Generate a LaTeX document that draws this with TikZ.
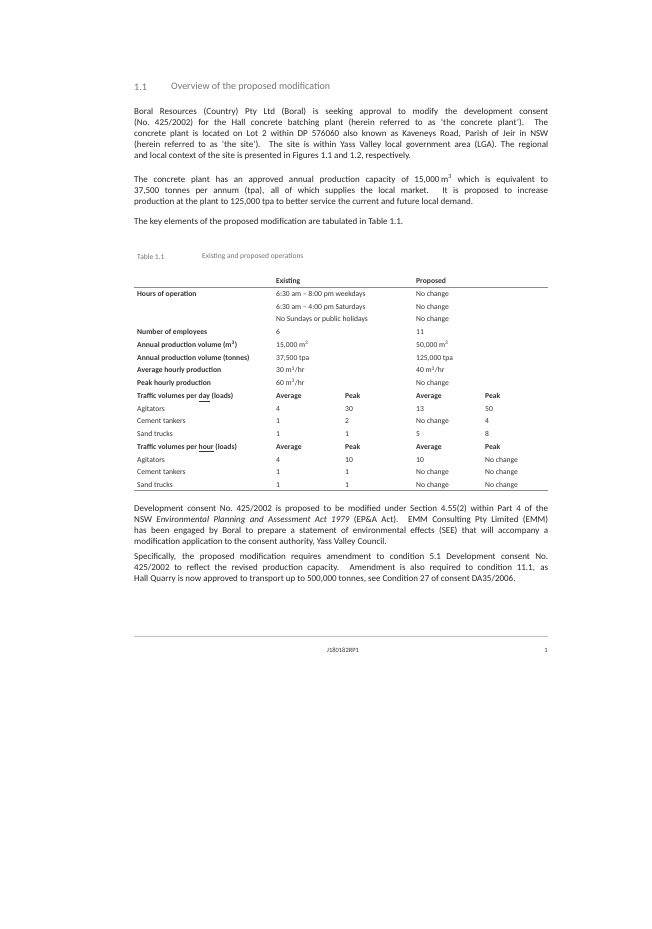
\documentclass[tikz,border=0pt]{standalone}
\usepackage{fontspec}
\setmainfont{Carlito}
\usetikzlibrary{positioning}
\definecolor{headgray}{gray}{0.45}
\definecolor{rulegray}{gray}{0.55}
\begin{document}
\begin{tikzpicture}[x=1pt,y=-1pt]
    \tikzset{
        para/.style={anchor=north west, inner sep=0pt, text width=414pt, align=justify,
            font=\fontsize{9}{11}\selectfont, text=black!85},
        cell/.style={anchor=base west, inner sep=0pt, font=\fontsize{7.6}{9}\selectfont, text=black!80},
        bcell/.style={cell, font=\fontsize{7.6}{9}\selectfont\bfseries},
        gray head/.style={anchor=west, inner sep=0pt, text=headgray},
    }
    \fill[white] (0,0) rectangle (651,929);

    % Heading
    \node[gray head, font=\fontsize{10}{12}\selectfont] (num) at (134,87) {1.1};
    \node[gray head, font=\fontsize{10}{12}\selectfont] (head) at (171,87) {Overview of the proposed modification};

    % Paragraphs
    \node[para] (p1) at (134,107.5) {Boral Resources (Country) Pty Ltd (Boral) is seeking approval to modify the development consent\linebreak (No.~425/2002) for the Hall concrete batching plant (herein referred to as `the concrete plant').\ \ The\linebreak concrete plant is located on Lot 2 within DP 576060 also known as Kaveneys Road, Parish of Jeir in NSW\linebreak (herein referred to as `the site'). The site is within Yass Valley local government area (LGA). The regional\linebreak and local context of the site is presented in Figures 1.1 and 1.2, respectively.};
    \node[para] (p2) at (134,174.5) {The concrete plant has an approved annual production capacity of 15,000\,m\textsuperscript{3} which is equivalent to\linebreak 37,500 tonnes per annum (tpa), all of which supplies the local market. It is proposed to increase\linebreak production at the plant to 125,000 tpa to better service the current and future local demand.};
    \node[para] (p3) at (134,218.5) {The key elements of the proposed modification are tabulated in Table 1.1.};

    % Table caption
    \node[gray head, font=\fontsize{7.5}{9}\selectfont] (tab) at (137,257) {Table 1.1};
    \node[gray head, font=\fontsize{7.5}{9}\selectfont] (tabcap) at (202,257) {Existing and proposed operations};

    % Table
    \newcommand{\tabrow}[7]{%
        \node[#2] at (137,#1+2.6) {#3};
        \node[cell] at (276,#1+2.6) {#4};
        \node[cell] at (345,#1+2.6) {#5};
        \node[cell] at (416,#1+2.6) {#6};
        \node[cell] at (485,#1+2.6) {#7};}
    \node[bcell] (ex) at (276,283.6) {Existing};
    \node[bcell] (pr) at (416,283.6) {Proposed};
    \coordinate (rl) at (134,287);
    \coordinate (rr) at (548,287);
    \draw[rulegray, line width=0.6pt] (rl) -- (rr);
    \tabrow{293.8}{bcell}{Hours of operation}{6:30 am -- 8:00 pm weekdays}{}{No change}{}
    \tabrow{306.5}{bcell}{}{6:30 am -- 4:00 pm Saturdays}{}{No change}{}
    \tabrow{319.3}{bcell}{}{No Sundays or public holidays}{}{No change}{}
    \tabrow{332.0}{bcell}{Number of employees}{6}{}{11}{}
    \tabrow{344.8}{bcell}{Annual production volume (m\textsuperscript{3})}{15,000 m\textsuperscript{3}}{}{50,000 m\textsuperscript{3}}{}
    \tabrow{357.5}{bcell}{Annual production volume (tonnes)}{37,500 tpa}{}{125,000 tpa}{}
    \tabrow{370.3}{bcell}{Average hourly production}{30 m\textsuperscript{3}/hr}{}{40 m\textsuperscript{3}/hr}{}
    \tabrow{383.0}{bcell}{Peak hourly production}{60 m\textsuperscript{3}/hr}{}{No change}{}
    \tabrow{395.8}{bcell}{Traffic volumes per \underline{day} (loads)}{\textbf{Average}}{\textbf{Peak}}{\textbf{Average}}{\textbf{Peak}}
    \tabrow{408.5}{cell}{Agitators}{4}{30}{13}{50}
    \tabrow{421.3}{cell}{Cement tankers}{1}{2}{No change}{4}
    \tabrow{434.0}{cell}{Sand trucks}{1}{1}{5}{8}
    \tabrow{446.8}{bcell}{Traffic volumes per \underline{hour} (loads)}{\textbf{Average}}{\textbf{Peak}}{\textbf{Average}}{\textbf{Peak}}
    \tabrow{459.5}{cell}{Agitators}{4}{10}{10}{No change}
    \tabrow{472.3}{cell}{Cement tankers}{1}{1}{No change}{No change}
    \tabrow{485.0}{cell}{Sand trucks}{1}{1}{No change}{No change}
    \coordinate (bl) at (134,490);
    \coordinate (br) at (548,490);
    \draw[rulegray, line width=0.6pt] (bl) -- (br);

    % Paragraphs after the table
    \node[para] (p4) at (134,504.5) {Development consent No.~425/2002 is proposed to be modified under Section 4.55(2) within Part 4 of the\linebreak NSW \emph{Environmental Planning and Assessment Act 1979} (EP\&A Act). EMM Consulting Pty Limited (EMM)\linebreak has been engaged by Boral to prepare a statement of environmental effects (SEE) that will accompany a\linebreak modification application to the consent authority, Yass Valley Council.};
    \node[para] (p5) at (134,553.5) {Specifically, the proposed modification requires amendment to condition 5.1 Development consent No.\linebreak 425/2002 to reflect the revised production capacity. Amendment is also required to condition 11.1, as\linebreak Hall Quarry is now approved to transport up to 500,000 tonnes, see Condition 27 of consent DA35/2006.};

    % Footer
    \coordinate (fl) at (134,636);
    \coordinate (fr) at (548,636);
    \draw[black!25, line width=0.4pt] (fl) -- (fr);
    \node[cell, anchor=center, font=\fontsize{6.5}{8}\selectfont] (code) at (343,650) {J180182RP1};
    \node[cell, anchor=center, font=\fontsize{6.5}{8}\selectfont] (page) at (546,650) {1};
\end{tikzpicture}
\end{document}
